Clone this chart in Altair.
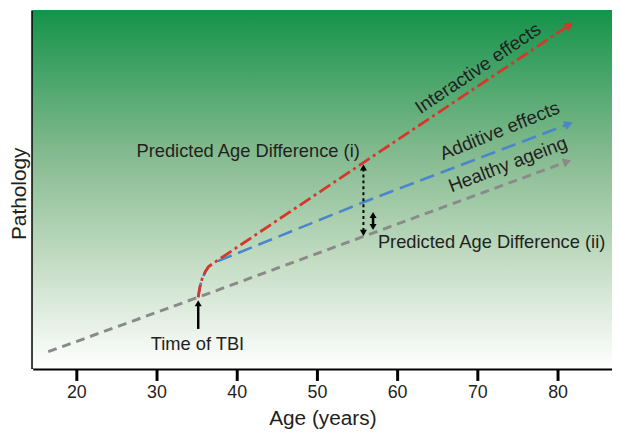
import math
import altair as alt
import pandas as pd

# ---------------- data ----------------
tick_values = [20, 30, 40, 50, 60, 70, 80]
x_domain = [14.57, 86.79]
y_domain = [0, 362]

# Healthy ageing (grey dashed)
healthy_age = [16.5, 35.2, 81.2]
healthy_path = [17, 72, 209]

# Shared post-TBI curve
curve_age = [35.2, 35.4, 35.7, 36.1, 36.5, 37.2]
curve_path = [72, 82, 91, 98, 103, 107]

# Additive effects (blue long dash)
additive_age = [55.8, 81.4]
additive_path = [168, 247]

# Interactive effects (red dash-dot)
interactive_age = [55.8, 81.5]
interactive_path = [208, 347]

# Text annotations
label_text = ["Interactive effects", "Additive effects", "Healthy ageing"]
label_age = [70.1, 72.8, 73.8]
label_path = [303, 240, 206]
label_angle = [326, 338, 339]

left_text = ["Predicted Age Difference (i)", "Predicted Age Difference (ii)"]
left_age = [27.5, 57.6]
left_path = [220, 128]

tbi_text = ["Time of TBI"]
tbi_age = [35.1]
tbi_path = [25]

# Annotation arrows (shafts)
dotted_age = [55.8]
dotted_from = [139]
dotted_to = [203]
solid_age = [57.0]
solid_from = [143]
solid_to = [155]
tbi_arrow_age = [35.2]
tbi_arrow_from = [40]
tbi_arrow_to = [64]

# Arrow heads for annotations: age, path, direction angle
head_age = [55.8, 55.8, 57.0, 57.0, 35.2]
head_path = [203, 137, 155, 143, 66]
head_angle = [0, 180, 0, 180, 0]

W, H = 585, 362
px_x = W / (x_domain[1] - x_domain[0])
px_y = H / (y_domain[1] - y_domain[0])

FONT = "Liberation Sans"
TXT = "#231f20"

xs = alt.Scale(domain=x_domain, nice=False, zero=False)
ys = alt.Scale(domain=y_domain, nice=False, zero=False)

def line_df(ages, paths):
    return pd.DataFrame({"age": ages, "path": paths})

def end_angle(ages, paths):
    dx = (ages[-1] - ages[-2]) * px_x
    dy = (paths[-1] - paths[-2]) * px_y
    return math.degrees(math.atan2(dx, dy)) % 360

grey_df = line_df(healthy_age, healthy_path)
blue_df = line_df(curve_age + additive_age, curve_path + additive_path)
red_df = line_df(curve_age + interactive_age, curve_path + interactive_path)

GREY, BLUE, RED = "#8a8a8a", "#4b87c8", "#d6372b"

tips = pd.DataFrame({
    "age": [healthy_age[-1], additive_age[-1], interactive_age[-1]],
    "path": [healthy_path[-1], additive_path[-1], interactive_path[-1]],
    "ang": [end_angle(healthy_age, healthy_path),
            end_angle(blue_df.age.tolist(), blue_df.path.tolist()),
            end_angle(red_df.age.tolist(), red_df.path.tolist())],
    "col": [GREY, BLUE, RED],
})

bg = alt.Chart(pd.DataFrame({"a": [0]})).mark_rect(
    color=alt.Gradient(
        gradient="linear", x1=0, x2=0, y1=0, y2=1,
        stops=[alt.GradientStop(offset=0, color="#14934a"),
               alt.GradientStop(offset=0.4, color="#84ba8f"),
               alt.GradientStop(offset=0.7, color="#c3dcc3"),
               alt.GradientStop(offset=1, color="#ffffff")])
).encode(x=alt.value(0), x2=alt.value(W), y=alt.value(0), y2=alt.value(H))

x_enc = alt.X("age:Q", scale=xs, axis=alt.Axis(
    values=tick_values, title="Age (years)", grid=False,
    domainColor="black", domainWidth=3, tickColor="black", tickWidth=3,
    tickSize=12, labelFontSize=18, labelPadding=3, labelFont=FONT,
    labelColor=TXT, titleFont=FONT, titleFontSize=21, titleFontWeight="normal",
    titleColor=TXT, titleBaseline="alphabetic", titleY=57))
y_enc = alt.Y("path:Q", scale=ys, axis=alt.Axis(
    title="Pathology", grid=False, ticks=False, labels=False,
    domainColor="black", domainWidth=4, titleFont=FONT, titleFontSize=21,
    titleFontWeight="normal", titleColor=TXT, titleAngle=270,
    titleBaseline="alphabetic", titleAlign="center", titleX=-7, titleY=185))

grey = alt.Chart(grey_df).mark_line(color=GREY, strokeWidth=3, strokeDash=[9, 6]).encode(x=x_enc, y=y_enc)
blue = alt.Chart(blue_df).mark_line(color=BLUE, strokeWidth=2.6, strokeDash=[15, 7]).encode(x="age:Q", y="path:Q")
red = alt.Chart(red_df).mark_line(color=RED, strokeWidth=2.8, strokeDash=[13, 4, 3, 4]).encode(x="age:Q", y="path:Q")

heads = alt.Chart(tips).mark_point(shape="triangle-up", filled=True, size=95, opacity=1).encode(
    x="age:Q", y="path:Q",
    angle=alt.Angle("ang:Q", scale=None),
    color=alt.Color("col:N", scale=None))

dotted = alt.Chart(pd.DataFrame({"age": dotted_age, "p1": dotted_from, "p2": dotted_to})).mark_rule(
    color="black", strokeWidth=2, strokeDash=[3, 3]).encode(x="age:Q", y="p1:Q", y2="p2:Q")
solid = alt.Chart(pd.DataFrame({"age": solid_age + tbi_arrow_age, "p1": solid_from + tbi_arrow_from,
                                "p2": solid_to + tbi_arrow_to})).mark_rule(
    color="black", strokeWidth=2.5).encode(x="age:Q", y="p1:Q", y2="p2:Q")
ahead = alt.Chart(pd.DataFrame({"age": head_age, "path": head_path, "ang": head_angle})).mark_point(
    shape="triangle-up", filled=True, size=50, opacity=1, color="black").encode(
    x="age:Q", y="path:Q", angle=alt.Angle("ang:Q", scale=None))

rot_text = alt.Chart(pd.DataFrame({"t": label_text, "age": label_age, "path": label_path, "ang": label_angle})).mark_text(
    font=FONT, fontSize=19, color=TXT, align="center", baseline="middle").encode(
    x="age:Q", y="path:Q", text="t:N", angle=alt.Angle("ang:Q", scale=None))
lt = alt.Chart(pd.DataFrame({"t": left_text, "age": left_age, "path": left_path})).mark_text(
    font=FONT, fontSize=18.5, color=TXT, align="left", baseline="middle").encode(
    x="age:Q", y="path:Q", text="t:N")
tt = alt.Chart(pd.DataFrame({"t": tbi_text, "age": tbi_age, "path": tbi_path})).mark_text(
    font=FONT, fontSize=18.5, color=TXT, align="center", baseline="middle").encode(
    x="age:Q", y="path:Q", text="t:N")

chart = alt.layer(bg, grey, blue, red, heads, dotted, solid, ahead, rot_text, lt, tt).properties(
    width=W, height=H,
    autosize=alt.AutoSizeParams(type="none"),
    padding={"left": 25, "top": 0, "right": 0, "bottom": 64},
).configure_view(stroke=None)

chart.save("out.html", embed_options={"renderer": "svg", "actions": False})
